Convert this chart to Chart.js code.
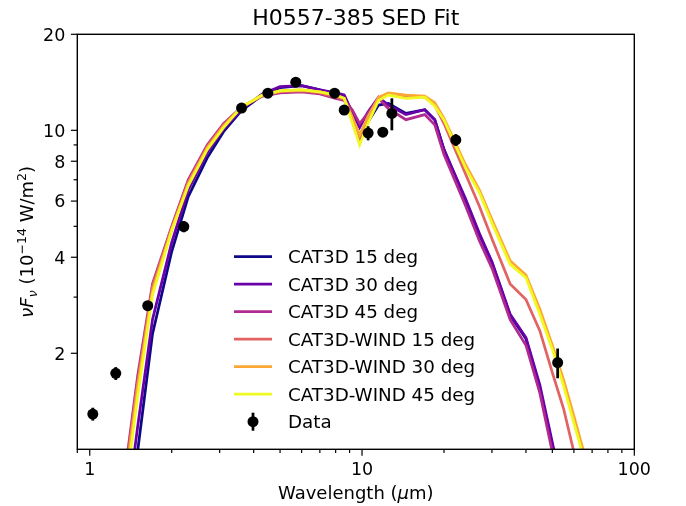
<!DOCTYPE html>
<html>
<head>
<meta charset="utf-8">
<script src="https://cdn.jsdelivr.net/npm/chart.js@4.4.0/dist/chart.umd.min.js"></script>
<style>
  html, body { margin: 0; padding: 0; background: #fff; }
  canvas { display: block; }
</style>
</head>
<body>
<canvas id="myChart" width="686" height="506"></canvas>
<script>
// Model grid (micron) shared by all SED curves
const wavelength = [1.3, 1.5, 1.7, 2.0, 2.3, 2.7, 3.1, 3.6, 4.3, 5.0, 6.0, 7.0, 8.0, 8.6, 9.2, 9.8, 10.5, 11.5, 12.5, 14.5, 17.0, 18.5, 20, 24, 27, 30, 35, 40, 45, 50, 55, 60, 65, 70];

// nuFnu in 1e-14 W/m2
const cat3d15 = [0.39, 0.99, 2.3, 4.17, 6.2, 8.2, 9.9, 11.5, 12.9, 13.6, 13.8, 13.4, 13.0, 12.8, 11.0, 9.3, 10.6, 12.0, 12.15, 11.3, 11.6, 10.8, 8.7, 6.0, 4.7, 3.85, 2.63, 2.22, 1.55, 1.03, 0.7, 0.5, 0.35, 0.25];
const cat3d30 = [0.46, 1.18, 2.55, 4.45, 6.5, 8.5, 10.1, 11.6, 13.0, 13.7, 13.8, 13.4, 13.1, 12.9, 11.4, 10.2, 11.4, 12.7, 12.0, 11.2, 11.6, 10.8, 8.7, 6.1, 4.75, 3.87, 2.65, 2.24, 1.59, 1.05, 0.72, 0.52, 0.37, 0.27];
const cat3d45 = [0.67, 1.7, 3.3, 5.0, 7.0, 9.0, 10.5, 11.8, 12.8, 13.1, 13.2, 13.0, 12.6, 12.4, 11.6, 10.5, 11.3, 12.6, 11.7, 10.8, 11.2, 10.4, 8.4, 5.8, 4.5, 3.7, 2.55, 2.12, 1.5, 0.98, 0.67, 0.48, 0.34, 0.24];
const wind15 = [0.65, 1.63, 3.25, 4.95, 6.9, 8.9, 10.4, 11.8, 12.8, 13.2, 13.3, 13.1, 12.7, 12.5, 11.0, 9.5, 11.0, 12.6, 13.0, 12.8, 12.7, 12.0, 10.5, 7.3, 5.77, 4.57, 3.3, 2.95, 2.35, 1.74, 1.34, 0.98, 0.78, 0.6];
const wind30 = [0.61, 1.57, 3.15, 4.9, 6.8, 8.8, 10.3, 11.8, 12.9, 13.3, 13.4, 13.2, 12.9, 12.6, 11.0, 9.67, 11.0, 12.7, 13.1, 12.9, 12.8, 12.2, 10.9, 7.8, 6.5, 5.25, 3.9, 3.52, 2.75, 2.12, 1.65, 1.27, 0.99, 0.75];
const wind45 = [0.57, 1.47, 3.05, 4.85, 6.7, 8.7, 10.2, 11.8, 12.9, 13.3, 13.4, 13.2, 12.9, 12.6, 10.6, 9.0, 10.5, 12.4, 12.9, 12.6, 12.7, 11.9, 10.77, 7.62, 6.37, 5.12, 3.8, 3.45, 2.65, 2.06, 1.58, 1.21, 0.95, 0.7];

// Photometry
const dataWavelength = [1.026, 1.246, 1.633, 2.215, 3.61, 4.51, 5.71, 7.93, 8.60, 10.53, 11.92, 12.87, 22.1, 52.3];
const dataFlux = [1.29, 1.73, 2.82, 4.99, 11.74, 13.08, 14.16, 13.08, 11.57, 9.8, 9.87, 11.3, 9.33, 1.87];
const dataErr = [0.06, 0.08, 0.1, 0.2, 0.3, 0.3, 0.3, 0.3, 0.3, 0.5, 0.3, 1.3, 0.4, 0.2];

// Axis ticks
const xMajorTicks = [1, 10, 100];
const xMinorTicks = [0.9, 2, 3, 4, 5, 6, 7, 8, 9, 20, 30, 40, 50, 60, 70, 80, 90];
const yLabelTicks = [2, 4, 6, 8, 10, 20];
const yMinorTicks = [3, 5, 7, 9];

const seriesNames = ["CAT3D 15 deg", "CAT3D 30 deg", "CAT3D 45 deg", "CAT3D-WIND 15 deg", "CAT3D-WIND 30 deg", "CAT3D-WIND 45 deg"];
const seriesValues = [cat3d15, cat3d30, cat3d45, wind15, wind30, wind45];
const seriesColors = ["#0d0887", "#6a00a8", "#b12a90", "#e16462", "#fca636", "#f0f921"];

const FONT = "'DejaVu Sans', sans-serif";

function toPoints(xs, ys) {
  return xs.map((x, i) => ({ x: x, y: ys[i] }));
}

const datasets = seriesValues.map((vals, i) => ({
  label: seriesNames[i],
  data: toPoints(wavelength, vals),
  borderColor: seriesColors[i],
  backgroundColor: seriesColors[i],
  borderWidth: 2.75,
  pointRadius: 0,
  tension: 0,
  fill: false,
  order: 7 - i
}));

datasets.push({
  type: 'scatter',
  label: 'Data',
  data: toPoints(dataWavelength, dataFlux),
  backgroundColor: '#000',
  borderColor: '#000',
  pointRadius: 5.5,
  pointBorderWidth: 0,
  showLine: false,
  order: 1
});

// draw text runs with italic / sub / superscript pieces
function drawRuns(ctx, runs, x, y) {
  let cx = x;
  runs.forEach(r => {
    ctx.font = (r.italic ? 'italic ' : '') + r.size + 'px ' + FONT;
    ctx.fillText(r.t, cx, y + (r.dy || 0));
    cx += ctx.measureText(r.t).width;
  });
}
function runsWidth(ctx, runs) {
  let w = 0;
  runs.forEach(r => {
    ctx.font = (r.italic ? 'italic ' : '') + r.size + 'px ' + FONT;
    w += ctx.measureText(r.t).width;
  });
  return w;
}

const sedDecorations = {
  id: 'sedDecorations',
  afterDatasetsDraw(chart) {
    const ctx = chart.ctx, xs = chart.scales.x, ys = chart.scales.y;
    ctx.save();
    ctx.strokeStyle = '#000';
    ctx.lineWidth = 2.75;
    dataWavelength.forEach((w, i) => {
      const px = xs.getPixelForValue(w);
      ctx.beginPath();
      ctx.moveTo(px, ys.getPixelForValue(dataFlux[i] - dataErr[i]));
      ctx.lineTo(px, ys.getPixelForValue(dataFlux[i] + dataErr[i]));
      ctx.stroke();
    });
    ctx.restore();
  },
  afterDraw(chart) {
    const ctx = chart.ctx, xs = chart.scales.x, ys = chart.scales.y;
    const a = chart.chartArea;
    ctx.save();
    ctx.fillStyle = '#000';
    ctx.strokeStyle = '#000';

    // spines
    ctx.lineWidth = 1.4;
    ctx.strokeRect(a.left, a.top, a.right - a.left, a.bottom - a.top);

    // ticks
    ctx.lineWidth = 1.2;
    const tick = (x1, y1, x2, y2) => { ctx.beginPath(); ctx.moveTo(x1, y1); ctx.lineTo(x2, y2); ctx.stroke(); };
    xMajorTicks.forEach(v => { const p = xs.getPixelForValue(v); tick(p, a.bottom, p, a.bottom + 6.4); });
    xMinorTicks.forEach(v => { const p = xs.getPixelForValue(v); tick(p, a.bottom, p, a.bottom + 3.7); });
    yLabelTicks.forEach(v => { const p = ys.getPixelForValue(v); tick(a.left, p, a.left - 6.4, p); });
    yMinorTicks.forEach(v => { const p = ys.getPixelForValue(v); tick(a.left, p, a.left - 3.7, p); });

    // tick labels
    ctx.font = '17.5px ' + FONT;
    ctx.textAlign = 'center';
    ctx.textBaseline = 'alphabetic';
    xMajorTicks.forEach(v => ctx.fillText(String(v), xs.getPixelForValue(v), a.bottom + 25.7));
    ctx.textAlign = 'right';
    yLabelTicks.forEach(v => ctx.fillText(String(v), a.left - 12, ys.getPixelForValue(v) + 6.4));

    // title
    ctx.textAlign = 'center';
    ctx.font = '22px ' + FONT;
    ctx.fillText('H0557-385 SED Fit', (a.left + a.right) / 2, 25);

    // x label
    ctx.textAlign = 'left';
    const xRuns = [
      { t: 'Wavelength (', size: 18 },
      { t: 'μ', size: 18, italic: true },
      { t: 'm)', size: 18 }
    ];
    drawRuns(ctx, xRuns, (a.left + a.right) / 2 - runsWidth(ctx, xRuns) / 2, 499);

    // y label
    const yRuns = [
      { t: 'ν', size: 18, italic: true },
      { t: 'F', size: 18, italic: true },
      { t: 'ν', size: 12.6, italic: true, dy: 3.5 },
      { t: ' (10', size: 18 },
      { t: '−14', size: 12.6, dy: -7.5 },
      { t: ' W/m', size: 18 },
      { t: '2', size: 12.6, dy: -7.5 },
      { t: ')', size: 18 }
    ];
    ctx.save();
    ctx.translate(33, (a.top + a.bottom) / 2);
    ctx.rotate(-Math.PI / 2);
    drawRuns(ctx, yRuns, -runsWidth(ctx, yRuns) / 2, 0);
    ctx.restore();

    // legend
    const lx0 = 234, lx1 = 272, tx = 288, ly0 = 256.7, dy = 27.5;
    ctx.font = '18.3px ' + FONT;
    chart.data.datasets.forEach((ds, i) => {
      const y = ly0 + i * dy;
      if (ds.type === 'scatter') {
        const cx = (lx0 + lx1) / 2;
        ctx.lineWidth = 2.75;
        tick(cx, y - 9, cx, y + 9);
        ctx.beginPath();
        ctx.arc(cx, y, 5.5, 0, Math.PI * 2);
        ctx.fill();
      } else {
        ctx.strokeStyle = ds.borderColor;
        ctx.lineWidth = 2.75;
        tick(lx0, y, lx1, y);
        ctx.strokeStyle = '#000';
      }
      ctx.fillStyle = '#000';
      ctx.fillText(ds.label, tx, y + 6.6);
    });
    ctx.restore();
  }
};

const ctx = document.getElementById('myChart').getContext('2d');
const chart = new Chart(ctx, {
  type: 'line',
  data: { datasets: datasets },
  options: {
    responsive: false,
    animation: false,
    devicePixelRatio: 1,
    layout: { padding: { left: 0, right: 51.7, top: 34.3, bottom: 0 } },
    plugins: {
      legend: { display: false },
      title: { display: false },
      tooltip: { enabled: false }
    },
    scales: {
      x: {
        type: 'logarithmic',
        min: 0.9,
        max: 100,
        ticks: { display: false },
        grid: { display: false },
        border: { display: false },
        afterFit(scale) { scale.height = 506 - 449.3; }
      },
      y: {
        type: 'logarithmic',
        min: 1,
        max: 20,
        ticks: { display: false },
        grid: { display: false },
        border: { display: false },
        afterFit(scale) { scale.width = 77.3; }
      }
    }
  },
  plugins: [sedDecorations]
});
</script>
</body>
</html>
